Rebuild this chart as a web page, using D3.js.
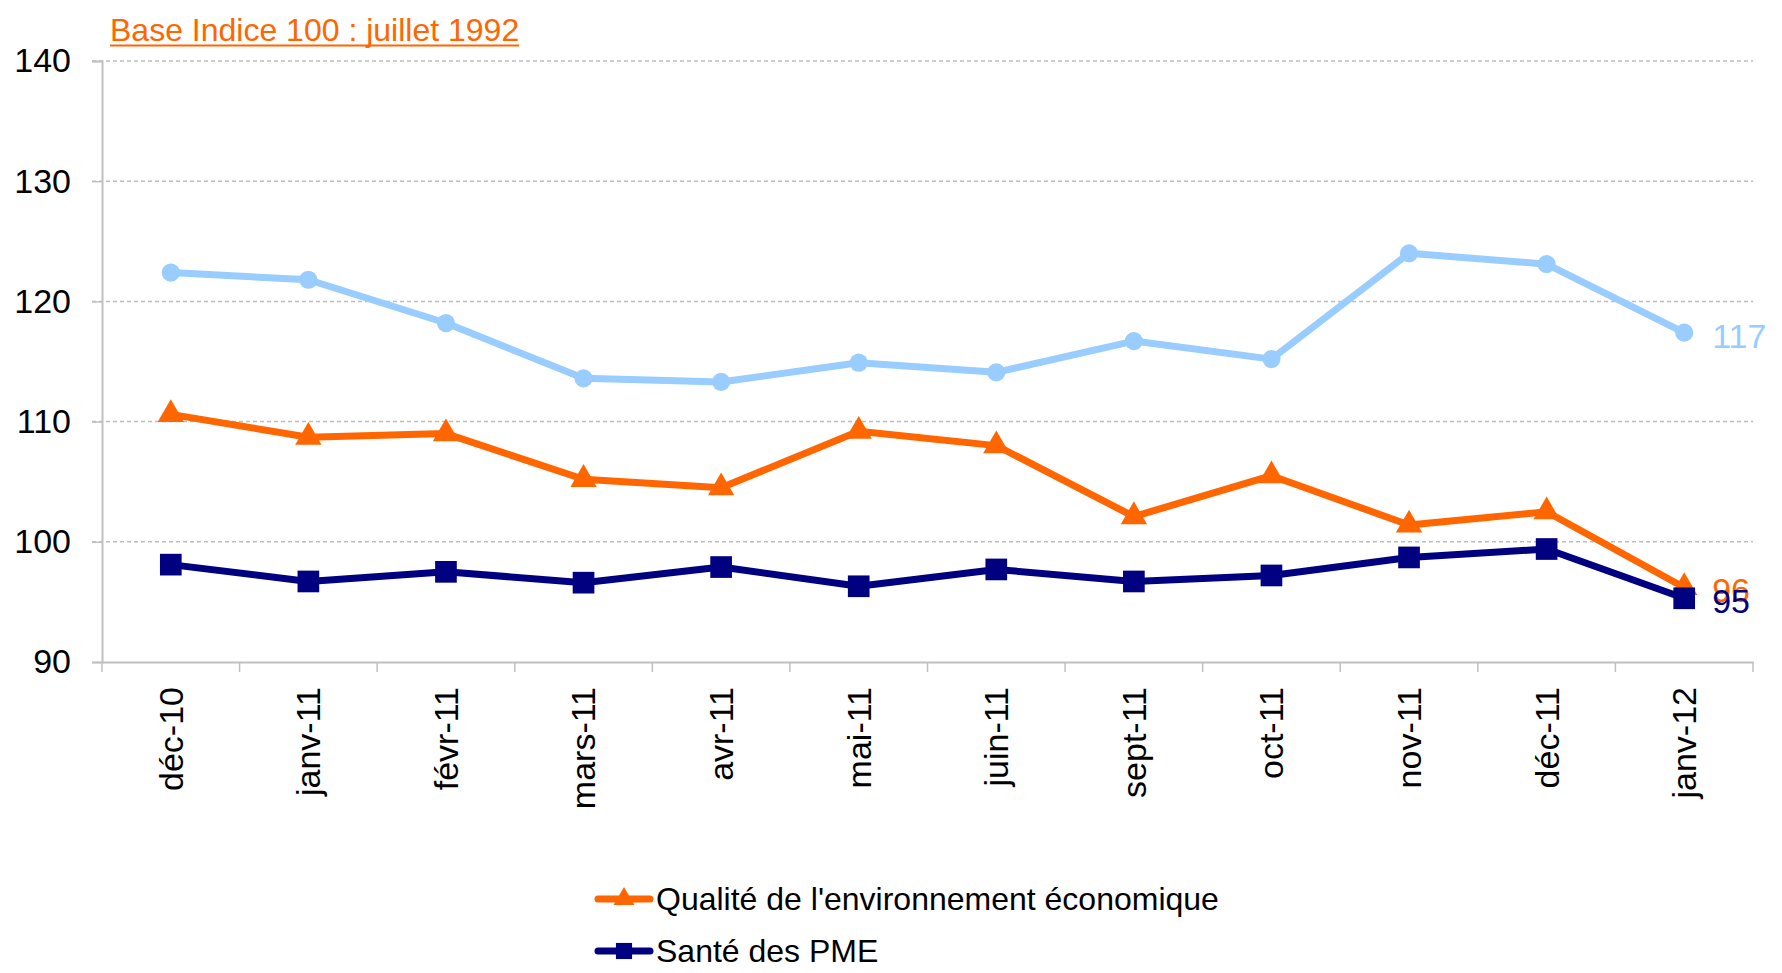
<!DOCTYPE html>
<html>
<head>
<meta charset="utf-8">
<script src="https://cdn.jsdelivr.net/npm/d3@7"></script>
<style>
  body { margin: 0; background: #fff; }
  svg text { font-family: Arial, "Liberation Sans", sans-serif; }
</style>
</head>
<body>
<svg id="chart" width="1782" height="973"></svg>
<script>
// categories (months)
const categories = ["déc-10", "janv-11", "févr-11", "mars-11", "avr-11", "mai-11",
  "juin-11", "sept-11", "oct-11", "nov-11", "déc-11", "janv-12"];

// light blue series (not in the legend)
const serieBleue = [122.4, 121.8, 118.2, 113.6, 113.3, 114.9, 114.1, 116.7, 115.2, 124.0, 123.1, 117.4];
// Qualité de l'environnement économique
const qualite = [110.6, 108.7, 109.0, 105.2, 104.5, 109.2, 108.0, 102.1, 105.5, 101.4, 102.5, 96.2];
// Santé des PME
const sante = [98.1, 96.7, 97.5, 96.6, 97.9, 96.3, 97.7, 96.7, 97.2, 98.7, 99.4, 95.3];

const yTicks = [90, 100, 110, 120, 130, 140];
const titre = "Base Indice 100 : juillet 1992";

const series = [
  { name: null, values: serieBleue, color: "#99CCFF", symbol: d3.symbolCircle, size: 260 },
  { name: "Qualité de l'environnement économique", values: qualite, color: "#FF6600", symbol: d3.symbolTriangle, size: 300 },
  { name: "Santé des PME", values: sante, color: "#000080", symbol: d3.symbolSquare, size: 470 }
];

const svg = d3.select("#chart");
const plotLeft = 102, plotRight = 1753, plotTop = 61, plotBottom = 662;

const x = d3.scaleBand().domain(categories).range([plotLeft, plotRight]).padding(0);
const y = d3.scaleLinear().domain([90, 140]).range([plotBottom, plotTop]);

// gridlines
svg.append("g")
  .selectAll("line")
  .data(yTicks.filter(d => d !== 90))
  .enter()
  .append("line")
  .attr("x1", plotLeft - 10)
  .attr("x2", plotRight)
  .attr("y1", d => y(d))
  .attr("y2", d => y(d))
  .attr("stroke", "#BDBDBD")
  .attr("stroke-width", 1.5)
  .attr("stroke-dasharray", "4,3");

// y axis
const yAxis = svg.append("g")
  .attr("transform", `translate(${plotLeft},0)`)
  .call(d3.axisLeft(y).tickValues(yTicks).tickSize(10).tickPadding(21));
yAxis.select(".domain").attr("stroke", "#C0C0C0").attr("stroke-width", 2);
yAxis.selectAll(".tick line").attr("stroke", "#C0C0C0").attr("stroke-width", 1.5);
yAxis.selectAll("text").attr("font-size", 34).attr("fill", "#000")
  .style("font-family", "Arial, 'Liberation Sans', sans-serif");

// x axis: line, ticks at boundaries, rotated labels
const xAxis = svg.append("g")
  .attr("transform", `translate(0,${plotBottom})`)
  .call(d3.axisBottom(x).tickSize(0).tickPadding(0));
xAxis.select(".domain").attr("stroke", "#C0C0C0").attr("stroke-width", 2);
xAxis.selectAll(".tick text")
  .attr("font-size", 34)
  .attr("fill", "#000")
  .style("font-family", "Arial, 'Liberation Sans', sans-serif")
  .attr("text-anchor", "end")
  .attr("transform", "rotate(-90)")
  .attr("x", -25)
  .attr("y", 0)
  .attr("dy", "0.35em");

const bounds = d3.range(categories.length + 1).map(i => plotLeft + i * x.step());
svg.append("g")
  .selectAll("line")
  .data(bounds)
  .enter()
  .append("line")
  .attr("x1", d => d)
  .attr("x2", d => d)
  .attr("y1", plotBottom)
  .attr("y2", plotBottom + 10)
  .attr("stroke", "#C0C0C0")
  .attr("stroke-width", 1.5);

// lines and markers
const cx = d => x(d) + x.bandwidth() / 2;
const line = d3.line()
  .x((d, i) => cx(categories[i]))
  .y(d => y(d));

series.forEach(s => {
  svg.append("path")
    .datum(s.values)
    .attr("fill", "none")
    .attr("stroke", s.color)
    .attr("stroke-width", 7)
    .attr("stroke-linejoin", "round")
    .attr("d", line);

  svg.append("g")
    .selectAll("path")
    .data(s.values)
    .enter()
    .append("path")
    .attr("d", d3.symbol().type(s.symbol).size(s.size))
    .attr("transform", (d, i) => `translate(${cx(categories[i])},${y(d)})`)
    .attr("fill", s.color);
});

// end labels (96 and 95 overlap in the original too)
series.forEach(s => {
  const last = s.values[s.values.length - 1];
  svg.append("text")
    .attr("x", cx(categories[categories.length - 1]) + 28)
    .attr("y", y(last) + 3)
    .attr("dy", "0.35em")
    .attr("font-size", 34)
    .attr("fill", s.color)
    .text(Math.round(last));
});

// title (underlined)
const t = svg.append("text")
  .attr("x", 110)
  .attr("y", 41)
  .attr("font-size", 32)
  .attr("fill", "#FF6600")
  .text(titre);
const tw = t.node().getComputedTextLength();
svg.append("line")
  .attr("x1", 110)
  .attr("x2", 110 + tw)
  .attr("y1", 45.5)
  .attr("y2", 45.5)
  .attr("stroke", "#FF6600")
  .attr("stroke-width", 2);

// legend
const legendItems = series.filter(s => s.name);
const lg = svg.append("g")
  .selectAll("g")
  .data(legendItems)
  .enter()
  .append("g")
  .attr("transform", (d, i) => `translate(598,${899 + i * 52})`);

lg.append("line")
  .attr("x1", 0)
  .attr("x2", 52)
  .attr("stroke", d => d.color)
  .attr("stroke-width", 7)
  .attr("stroke-linecap", "round");

lg.append("path")
  .attr("d", d => d3.symbol().type(d.symbol).size(d.symbol === d3.symbolSquare ? 260 : 190)())
  .attr("transform", "translate(26,0)")
  .attr("fill", d => d.color);

lg.append("text")
  .attr("x", 58)
  .attr("dy", "0.35em")
  .attr("font-size", 32)
  .attr("fill", "#000")
  .text(d => d.name);
</script>
</body>
</html>
